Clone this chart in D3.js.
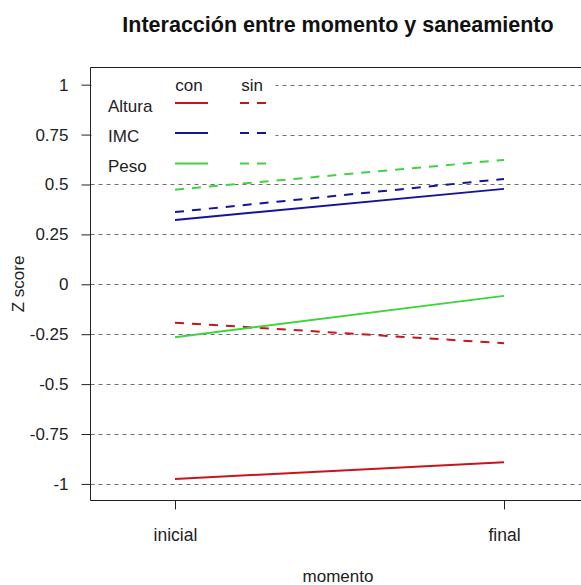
<!DOCTYPE html>
<html>
<head>
<meta charset="utf-8">
<script src="https://cdn.jsdelivr.net/npm/d3@7"></script>
<style>
  html, body { margin: 0; padding: 0; background: #fff; }
  svg { display: block; font-family: "Liberation Sans", Arial, sans-serif; }
</style>
</head>
<body>
<svg id="chart" width="581" height="585"></svg>
<script>
// ---- data ----
const momento = ["inicial", "final"];
const variables = ["Altura", "IMC", "Peso"];
const grupos = ["con", "sin"];
const conValues = {
  Altura: [-0.975, -0.892],
  IMC: [0.322, 0.478],
  Peso: [-0.265, -0.058]
};
const sinValues = {
  Altura: [-0.192, -0.295],
  IMC: [0.362, 0.528],
  Peso: [0.474, 0.623]
};
const yTicks = [-1, -0.75, -0.5, -0.25, 0, 0.25, 0.5, 0.75, 1];
const colors = { Altura: "#c8151d", IMC: "#14149a", Peso: "#3fd43f" };
const titleText = "Interacción entre momento y saneamiento";

// ---- layout ----
const svg = d3.select("#chart");
const box = { left: 90.5, top: 67.5, right: 586, bottom: 500.5 };
const FS = 17;

const x = d3.scalePoint().domain(momento).range([175, 504]).padding(0);
const y = d3.scaleLinear().domain([-1.083, 1.086]).range([box.bottom, box.top]);

// grid lines
svg.append("g").selectAll("line").data(yTicks).join("line")
  .attr("x1", box.left).attr("x2", 581)
  .attr("y1", d => Math.round(y(d)) + 0.5).attr("y2", d => Math.round(y(d)) + 0.5)
  .attr("stroke", "#6e6e6e").attr("stroke-width", 1).attr("stroke-dasharray", "4,4");

// legend background (covers grid)
svg.append("rect").attr("x", box.left + 1).attr("y", box.top + 2)
  .attr("width", 184).attr("height", 108).attr("fill", "#fff");

// data lines
const lineGen = d3.line().x((d, i) => x(momento[i])).y(d => y(d));
variables.forEach(v => {
  svg.append("path").datum(conValues[v]).attr("d", lineGen)
    .attr("fill", "none").attr("stroke", colors[v]).attr("stroke-width", 2);
  svg.append("path").datum(sinValues[v]).attr("d", lineGen)
    .attr("fill", "none").attr("stroke", colors[v]).attr("stroke-width", 2)
    .attr("stroke-dasharray", "9,8");
});

// box
svg.append("path")
  .attr("d", `M${box.right},${box.top}H${box.left}V${box.bottom}H${box.right}`)
  .attr("fill", "none").attr("stroke", "#222").attr("stroke-width", 1);

// y axis
const yAxis = svg.append("g").attr("transform", `translate(${box.left},0)`)
  .call(d3.axisLeft(y).tickValues(yTicks).tickSize(9).tickPadding(13)
    .tickFormat(d => String(d)));
yAxis.select(".domain").remove();
yAxis.selectAll("line").attr("stroke", "#222");
yAxis.selectAll("text").attr("font-size", FS).attr("fill", "#222")
  .attr("font-family", "'Liberation Sans', Arial, sans-serif");

// x axis
const xAxis = svg.append("g").attr("transform", `translate(0,${box.bottom})`)
  .call(d3.axisBottom(x).tickSize(9).tickPadding(19));
xAxis.select(".domain").remove();
xAxis.selectAll("line").attr("stroke", "#222");
xAxis.selectAll("text").attr("font-size", FS + 0.5).attr("fill", "#222")
  .attr("font-family", "'Liberation Sans', Arial, sans-serif");

// titles
svg.append("text").attr("x", 338).attr("y", 32).attr("text-anchor", "middle")
  .attr("font-size", 21.5).attr("font-weight", "bold").attr("fill", "#111").text(titleText);
svg.append("text").attr("x", 338).attr("y", 582).attr("text-anchor", "middle")
  .attr("font-size", FS).attr("fill", "#222").text("momento");
svg.append("text").attr("transform", "translate(24,284) rotate(-90)")
  .attr("text-anchor", "middle").attr("font-size", FS).attr("fill", "#222").text("Z score");

// legend
const legRowY = [103, 133, 163.5];
const conX = [175, 208], sinX = [240, 268];
const leg = svg.append("g");
leg.append("text").attr("x", 189).attr("y", 91).attr("text-anchor", "middle")
  .attr("font-size", FS).attr("fill", "#222").text(grupos[0]);
leg.append("text").attr("x", 252).attr("y", 91).attr("text-anchor", "middle")
  .attr("font-size", FS).attr("fill", "#222").text(grupos[1]);
variables.forEach((v, i) => {
  leg.append("text").attr("x", 108).attr("y", legRowY[i] + 8.5)
    .attr("font-size", FS).attr("fill", "#222").text(v);
  leg.append("line").attr("x1", conX[0]).attr("x2", conX[1])
    .attr("y1", legRowY[i]).attr("y2", legRowY[i])
    .attr("stroke", colors[v]).attr("stroke-width", 2);
  leg.append("line").attr("x1", sinX[0]).attr("x2", sinX[1])
    .attr("y1", legRowY[i]).attr("y2", legRowY[i])
    .attr("stroke", colors[v]).attr("stroke-width", 2).attr("stroke-dasharray", "9,8");
});
</script>
</body>
</html>
